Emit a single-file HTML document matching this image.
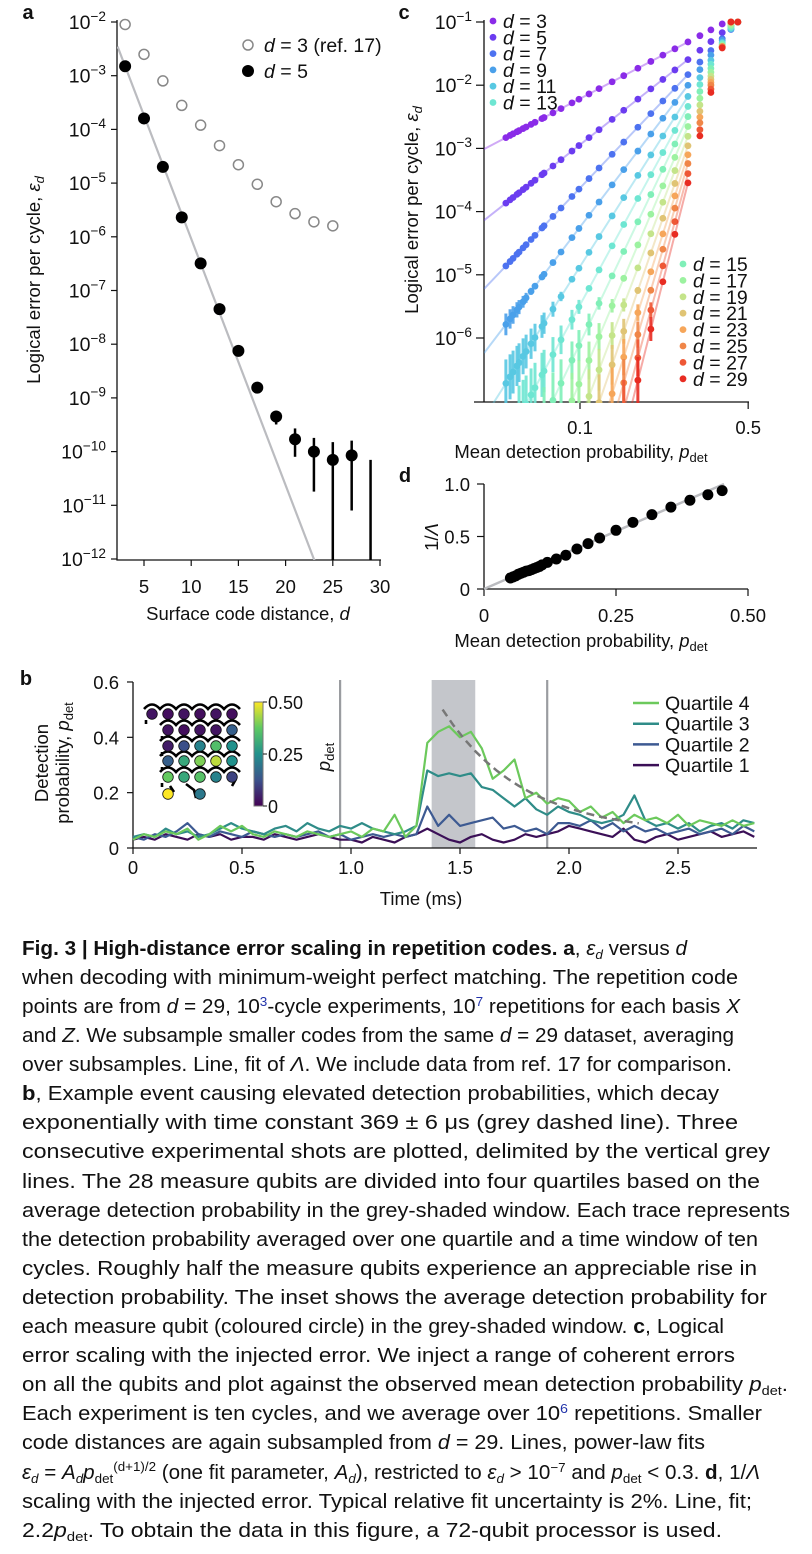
<!DOCTYPE html>
<html><head><meta charset="utf-8">
<style>
html,body{margin:0;padding:0;background:#fff;}
svg{display:block;font-family:"Liberation Sans",sans-serif;}
.cap{font-family:"Liberation Sans Narrow","Liberation Sans",sans-serif;font-size:20px;fill:#111;}
</style></head>
<body>
<svg id="fig" width="812" height="1554" viewBox="0 0 812 1554" xmlns="http://www.w3.org/2000/svg">
<defs>
<linearGradient id="viridis" x1="0" y1="1" x2="0" y2="0">
<stop offset="0" stop-color="#440154"/><stop offset="0.25" stop-color="#3b528b"/><stop offset="0.5" stop-color="#21918c"/><stop offset="0.75" stop-color="#5ec962"/><stop offset="1" stop-color="#fde725"/>
</linearGradient>
<clipPath id="clipC"><rect x="484" y="14" width="280" height="389"/></clipPath>
<clipPath id="clipA"><rect x="117" y="10" width="270" height="550"/></clipPath>
</defs>
<g id="pa"></g>
<g id="pc"></g>
<g id="pd"></g>
<g id="pb"></g>
<g id="caption">
<text class="cap" x="22" y="955" textLength="665" lengthAdjust="spacingAndGlyphs"><tspan font-weight="bold">Fig. 3 | High-distance error scaling in repetition codes. a</tspan>, <tspan font-style="italic">ε</tspan><tspan font-style="italic" font-size="13" dy="4">d</tspan><tspan dy="-4"> versus </tspan><tspan font-style="italic">d</tspan></text>
<text class="cap" x="22" y="984" textLength="716" lengthAdjust="spacingAndGlyphs">when decoding with minimum-weight perfect matching. The repetition code</text>
<text class="cap" x="22" y="1013" textLength="718" lengthAdjust="spacingAndGlyphs">points are from <tspan font-style="italic">d</tspan> = 29, 10<tspan font-size="13" dy="-7" fill="#2233aa">3</tspan><tspan dy="7">-cycle experiments, 10</tspan><tspan font-size="13" dy="-7" fill="#2233aa">7</tspan><tspan dy="7"> repetitions for each basis </tspan><tspan font-style="italic">X</tspan></text>
<text class="cap" x="22" y="1042" textLength="712" lengthAdjust="spacingAndGlyphs">and <tspan font-style="italic">Z</tspan>. We subsample smaller codes from the same <tspan font-style="italic">d</tspan> = 29 dataset, averaging</text>
<text class="cap" x="22" y="1071" textLength="710" lengthAdjust="spacingAndGlyphs">over subsamples. Line, fit of <tspan font-style="italic">Λ</tspan>. We include data from ref. 17 for comparison.</text>
<text class="cap" x="22" y="1100" textLength="697" lengthAdjust="spacingAndGlyphs"><tspan font-weight="bold">b</tspan>, Example event causing elevated detection probabilities, which decay</text>
<text class="cap" x="22" y="1129" textLength="716" lengthAdjust="spacingAndGlyphs">exponentially with time constant 369 ± 6 μs (grey dashed line). Three</text>
<text class="cap" x="22" y="1158" textLength="748" lengthAdjust="spacingAndGlyphs">consecutive experimental shots are plotted, delimited by the vertical grey</text>
<text class="cap" x="22" y="1188" textLength="738" lengthAdjust="spacingAndGlyphs">lines. The 28 measure qubits are divided into four quartiles based on the</text>
<text class="cap" x="22" y="1217" textLength="768" lengthAdjust="spacingAndGlyphs">average detection probability in the grey-shaded window. Each trace represents</text>
<text class="cap" x="22" y="1246" textLength="736" lengthAdjust="spacingAndGlyphs">the detection probability averaged over one quartile and a time window of ten</text>
<text class="cap" x="22" y="1275" textLength="735" lengthAdjust="spacingAndGlyphs">cycles. Roughly half the measure qubits experience an appreciable rise in</text>
<text class="cap" x="22" y="1304" textLength="745" lengthAdjust="spacingAndGlyphs">detection probability. The inset shows the average detection probability for</text>
<text class="cap" x="22" y="1333" textLength="702" lengthAdjust="spacingAndGlyphs">each measure qubit (coloured circle) in the grey-shaded window. <tspan font-weight="bold">c</tspan>, Logical</text>
<text class="cap" x="22" y="1362" textLength="713" lengthAdjust="spacingAndGlyphs">error scaling with the injected error. We inject a range of coherent errors</text>
<text class="cap" x="22" y="1391" textLength="766" lengthAdjust="spacingAndGlyphs">on all the qubits and plot against the observed mean detection probability <tspan font-style="italic">p</tspan><tspan font-size="13" dy="4">det</tspan><tspan dy="-4">.</tspan></text>
<text class="cap" x="22" y="1420" textLength="740" lengthAdjust="spacingAndGlyphs">Each experiment is ten cycles, and we average over 10<tspan font-size="13" dy="-7" fill="#2233aa">6</tspan><tspan dy="7"> repetitions. Smaller</tspan></text>
<text class="cap" x="22" y="1449" textLength="683" lengthAdjust="spacingAndGlyphs">code distances are again subsampled from <tspan font-style="italic">d</tspan> = 29. Lines, power-law fits</text>
<text class="cap" x="22" y="1479" textLength="738" lengthAdjust="spacingAndGlyphs"><tspan font-style="italic">ε</tspan><tspan font-style="italic" font-size="13" dy="4">d</tspan><tspan dy="-4"> = </tspan><tspan font-style="italic">A</tspan><tspan font-style="italic" font-size="13" dy="4">d</tspan><tspan font-style="italic" dy="-4">p</tspan><tspan font-size="13" dy="4">det</tspan><tspan font-size="13" dy="-12">(d+1)/2</tspan><tspan dy="8"> (one fit parameter, </tspan><tspan font-style="italic">A</tspan><tspan font-style="italic" font-size="13" dy="4">d</tspan><tspan dy="-4">), restricted to </tspan><tspan font-style="italic">ε</tspan><tspan font-style="italic" font-size="13" dy="4">d</tspan><tspan dy="-4"> &gt; 10</tspan><tspan font-size="13" dy="-7">−7</tspan><tspan dy="7"> and </tspan><tspan font-style="italic">p</tspan><tspan font-size="13" dy="4">det</tspan><tspan dy="-4"> &lt; 0.3. </tspan><tspan font-weight="bold">d</tspan>, 1/<tspan font-style="italic">Λ</tspan></text>
<text class="cap" x="22" y="1508" textLength="730" lengthAdjust="spacingAndGlyphs">scaling with the injected error. Typical relative fit uncertainty is 2%. Line, fit;</text>
<text class="cap" x="22" y="1537" textLength="700" lengthAdjust="spacingAndGlyphs">2.2<tspan font-style="italic">p</tspan><tspan font-size="13" dy="4">det</tspan><tspan dy="-4">. To obtain the data in this figure, a 72-qubit processor is used.</tspan></text>
</g>
</svg>
<script>
// ---------- DATA ----------
// Panel a
const aDist = [3,5,7,9,11,13,15,17,19,21,23,25,27];
const aEps = [1.5e-3,1.6e-4,2.0e-5,2.3e-6,3.2e-7,4.5e-8,7.5e-9,1.55e-9,4.5e-10,1.7e-10,1.0e-10,7.0e-11,8.5e-11];
const aLo = [null,null,null,null,null,null,null,null,3.2e-10,8e-11,1.8e-11,1e-13,8e-12];
const aHi = [null,null,null,null,null,null,null,null,5.5e-10,2.7e-10,1.8e-10,1.5e-10,1.6e-10];
const refDist = [3,5,7,9,11,13,15,17,19,21,23,25];
const refEps = [9e-3,2.5e-3,8e-4,2.8e-4,1.2e-4,5e-5,2.2e-5,9.5e-6,4.5e-6,2.7e-6,1.9e-6,1.6e-6];
const aFitLambda = 0.459; // log10 decrease per unit d
const aFitStart = [2.2, 3.5e-3];
const d29Bar = [7e-11, 1e-13];
const aXTicks = [5,10,15,20,25,30];
const aYTicks = [-2,-3,-4,-5,-6,-7,-8,-9,-10,-11,-12];
// Panel c
const cDist = [3,5,7,9,11,13,15,17,19,21,23,25,27,29];
const cEpsAt028 = [0.048,0.0251,0.0145,0.0098,0.0065,0.0045,0.0031,0.00215,0.0015,0.00106,0.00076,0.00055,0.00038,0.00027];
const cP = [0.0492,0.0512,0.0527,0.0547,0.0558,0.058,0.0597,0.0626,0.065,0.0695,0.0709,0.0772,0.0834,0.0926,0.099,0.109,0.12,0.136,0.152,0.174,0.197,0.221,0.248,0.281];
const cPSat = [0.315,0.35,0.39,0.424,0.453];
const cColors = ["#8a2be8","#6b3cf0","#4d72f0","#4aa0ea","#58c8e2","#6ee6d2","#80efb8","#9cf2a0","#c4e48a","#e0c474","#f6a65a","#f08648","#ee5836","#e82c22"];
// Panel d
const dP = [0.05,0.055,0.06,0.065,0.07,0.075,0.08,0.085,0.09,0.095,0.1,0.105,0.11,0.12,0.137,0.155,0.176,0.197,0.219,0.25,0.282,0.318,0.354,0.39,0.424,0.451];
const dInvLam = [0.105,0.115,0.125,0.14,0.15,0.16,0.17,0.175,0.185,0.195,0.205,0.215,0.23,0.254,0.286,0.321,0.381,0.432,0.486,0.559,0.635,0.708,0.78,0.845,0.898,0.937];
const dFitSlope = 2.2;
// Panel b
const bStep = 0.05;
const bQ4 = [.03,.05,.04,.06,.05,.07,.03,.05,.08,.06,.08,.05,.04,.06,.05,.04,.06,.05,.04,.05,.06,.04,.07,.06,.12,.04,.08,.38,.42,.44,.40,.42,.36,.25,.28,.32,.18,.20,.16,.18,.17,.13,.15,.11,.13,.09,.12,.10,.11,.09,.12,.08,.10,.09,.08,.10,.08,.09];
const bQ3 = [.04,.05,.04,.07,.05,.06,.04,.05,.07,.09,.07,.06,.05,.07,.08,.06,.09,.07,.06,.08,.07,.09,.07,.06,.05,.06,.08,.28,.26,.27,.26,.27,.22,.21,.18,.15,.18,.14,.12,.15,.13,.12,.10,.09,.10,.12,.19,.10,.08,.09,.07,.09,.06,.08,.09,.07,.10,.09];
const bQ2 = [.04,.03,.05,.04,.06,.09,.05,.04,.06,.05,.04,.06,.05,.04,.05,.04,.05,.06,.04,.05,.03,.04,.05,.04,.05,.04,.05,.15,.08,.12,.08,.09,.10,.11,.07,.08,.06,.07,.05,.09,.09,.08,.10,.07,.09,.06,.08,.06,.07,.05,.06,.07,.05,.06,.07,.05,.08,.06];
const bQ1 = [.03,.04,.03,.05,.04,.03,.05,.04,.05,.03,.04,.04,.03,.05,.04,.03,.04,.05,.04,.03,.03,.02,.04,.03,.02,.04,.05,.07,.05,.03,.02,.04,.05,.03,.02,.03,.05,.04,.05,.06,.08,.07,.06,.05,.04,.07,.03,.02,.04,.05,.03,.04,.05,.06,.04,.05,.06,.04];
const bQuartileNames = ["Quartile 4","Quartile 3","Quartile 2","Quartile 1"];
const bColors = ["#6cc95c","#2f8c88","#3d5a92","#3b0f57"];
const bShots = [0.95,1.9];
const bWindow = [1.37,1.57];
const bDecay = [1.42, 0.45, 0.369, 0.05, 2.35]; // t0, amplitude, tau(ms), offset, t_end
const bXTicks = [0,0.5,1.0,1.5,2.0,2.5];
const bXTickLabels = ["0","0.5","1.0","1.5","2.0","2.5"];
const bYTicks = [0,0.2,0.4,0.6];
const insetRows = [[152,714,[.03,.02,.03,.02,.03,.02]],[168,730,[.03,.02,.03,.03,.15]],[168,746,[.04,.12,.22,.35,.25]],[168,761,[.15,.3,.4,.45,.25]],[168,777,[.38,.3,.36,.22,.1]]];
const insetRow6 = [[168,794,.5],[200,794,.2]];

// ---------- HELPERS ----------
const NS="http://www.w3.org/2000/svg";
const FS=18.5;
function mk(tag,parent,attrs){const e=document.createElementNS(NS,tag);for(const k in attrs)e.setAttribute(k,attrs[k]);parent.appendChild(e);return e;}
function txt(parent,x,y,s,opts){const e=mk('text',parent,Object.assign({x:x,y:y,'font-size':FS,fill:'#111'},opts||{}));e.textContent=s;return e;}
function pow10(parent,x,y,exp,size){const e=mk('text',parent,{x:x,y:y,'font-size':size,'text-anchor':'end',fill:'#111'});
 const t1=mk('tspan',e,{});t1.textContent='10';const t2=mk('tspan',e,{dy:-size*0.42,'font-size':size*0.7});t2.textContent='−'+Math.abs(exp);return e;}
function viridis(v){const s=[[68,1,84],[59,82,139],[33,145,140],[94,201,98],[253,231,37]];let t=Math.max(0,Math.min(1,v/0.5))*4;let i=Math.min(3,Math.floor(t));let f=t-i;const c=s[i].map((a,k)=>Math.round(a+(s[i+1][k]-a)*f));return `rgb(${c})`;}
const L=Math.log10;

// ---------- PANEL A ----------
const pa=document.getElementById('pa');
const xa=d=>144+(d-5)*9.44, ya=v=>22+(-2-L(v))*53.7;
let t=txt(pa,28,19,'a',{'font-weight':'bold','font-size':20,'text-anchor':'middle'});


let ax=mk('path',pa,{d:'M117 20 V560 H381',stroke:'#111','stroke-width':1.3,fill:'none'});


aYTicks.forEach(e=>{const y=ya(Math.pow(10,e));mk('line',pa,{x1:111,x2:117,y1:y,y2:y,stroke:'#111','stroke-width':1.2});
 const l=pow10(pa,106,y+7,e,19.5);
 
 });
aXTicks.forEach(d=>{const x=xa(d);mk('line',pa,{x1:x,x2:x,y1:560,y2:566,stroke:'#111','stroke-width':1.2});
 const l=txt(pa,x,593,String(d),{'text-anchor':'middle'});
 
 });
t=txt(pa,248,620,'',{'text-anchor':'middle'});t.innerHTML='Surface code distance, <tspan font-style="italic">d</tspan>';


t=txt(pa,0,0,'',{'text-anchor':'middle',transform:'translate(40,280) rotate(-90)'});t.innerHTML='Logical error per cycle, <tspan font-style="italic">ε</tspan><tspan font-style="italic" font-size="13" dy="4">d</tspan>';


const gA=mk('g',pa,{'clip-path':'url(#clipA)'});
const dEnd=aFitStart[0]+(L(aFitStart[1])+12.5)/aFitLambda;
let fl=mk('line',gA,{x1:xa(aFitStart[0]),y1:ya(aFitStart[1]),x2:xa(dEnd),y2:ya(Math.pow(10,-12.5)),stroke:'#bbbcc0','stroke-width':2.2});


refDist.forEach((d,i)=>{const c=mk('circle',pa,{cx:xa(d),cy:ya(refEps[i]),r:5,fill:'#fff',stroke:'#888','stroke-width':1.5});
 
 });
aDist.forEach((d,i)=>{if(aLo[i]!==null){const b=mk('line',gA,{x1:xa(d),x2:xa(d),y1:ya(aLo[i]),y2:ya(aHi[i]),stroke:'#000','stroke-width':2.5});
 
 }
 const c=mk('circle',pa,{cx:xa(d),cy:ya(aEps[i]),r:6,fill:'#000'});
 
 });
let b29=mk('line',gA,{x1:xa(29),x2:xa(29),y1:ya(d29Bar[0]),y2:ya(d29Bar[1]),stroke:'#000','stroke-width':2.5});


let lg=mk('g',pa,{});


mk('circle',lg,{cx:248,cy:45,r:5,fill:'#fff',stroke:'#888','stroke-width':1.5});
t=txt(lg,264,52,'',{'font-size':19.5});t.innerHTML='<tspan font-style="italic">d</tspan> = 3 (ref. 17)';
mk('circle',lg,{cx:248,cy:71,r:6,fill:'#000'});
t=txt(lg,264,78,'',{'font-size':19.5});t.innerHTML='<tspan font-style="italic">d</tspan> = 5';

// ---------- PANEL C ----------
const pc=document.getElementById('pc');
const xc=p=>580+L(p/0.1)*240.6, yc=v=>22+(-1-L(v))*63.2;
t=txt(pc,404,19,'c',{'font-weight':'bold','font-size':20,'text-anchor':'middle'});


ax=mk('path',pc,{d:'M484 20 V402 M474 402 H749',stroke:'#111','stroke-width':1.3,fill:'none'});


[-1,-2,-3,-4,-5,-6].forEach(e=>{const y=yc(Math.pow(10,e));mk('line',pc,{x1:476,x2:484,y1:y,y2:y,stroke:'#111','stroke-width':1.2});
 const l=pow10(pc,472,y+7,e,19.5);
 
 });
[[0.1,'0.1'],[0.5,'0.5']].forEach(([p,s])=>{const x=xc(p);mk('line',pc,{x1:x,x2:x,y1:402,y2:409,stroke:'#111','stroke-width':1.2});
 const l=txt(pc,x,434,s,{'text-anchor':'middle'});
 
 });
t=txt(pc,581,458,'',{'text-anchor':'middle'});t.innerHTML='Mean detection probability, <tspan font-style="italic">p</tspan><tspan font-size="13" dy="4">det</tspan>';


t=txt(pc,0,0,'',{'text-anchor':'middle',transform:'translate(418,210) rotate(-90)'});t.innerHTML='Logical error per cycle, <tspan font-style="italic">ε</tspan><tspan font-style="italic" font-size="13" dy="4">d</tspan>';


const gC=mk('g',pc,{'clip-path':'url(#clipC)'});
cDist.forEach((d,k)=>{const n=(d+1)/2,e0=cEpsAt028[k];const f=p=>e0*Math.pow(p/0.28,n);
 const pL=0.0399,pR=0.281;
 const ln=mk('line',gC,{x1:xc(pL),y1:yc(f(pL)),x2:xc(pR),y2:yc(f(pR)),stroke:cColors[k],'stroke-width':2,'stroke-opacity':0.4});
 
 
 cP.concat(cPSat).forEach(p=>{let v=Math.min(0.1,f(p));if(v<1e-7*0.5)return;
  const y=yc(v),x=xc(p);
  if(v<6e-6){const h=(L(6e-6)-L(v))*14+3;const b=mk('line',gC,{x1:x,x2:x,y1:y-h,y2:y+h,stroke:cColors[k],'stroke-width':3,'stroke-opacity':0.9});
   
   }
  const c=mk('circle',gC,{cx:x,cy:y,r:3.4,fill:cColors[k]});
  
  });
});
const lc=mk('g',pc,{});


cDist.forEach((d,k)=>{let x,y;if(k<6){x=493;y=21+k*16.3;}else{x=683;y=264+(k-6)*16.4;}
 mk('circle',lc,{cx:x,cy:y,r:3.4,fill:cColors[k]});
 const l=txt(lc,x+10,y+7,'',{'font-size':19.5});l.innerHTML='<tspan font-style="italic">d</tspan> = '+d;
 
 });

// ---------- PANEL D ----------
const pd=document.getElementById('pd');
const xd=p=>484+p*528, yd=v=>589-v*105;
t=txt(pd,405,482,'d',{'font-weight':'bold','font-size':20,'text-anchor':'middle'});


ax=mk('path',pd,{d:'M484 484 V589 H748',stroke:'#111','stroke-width':1.3,fill:'none'});


[[1,'1.0'],[0.5,'0.5'],[0,'0']].forEach(([v,s])=>{const y=yd(v);mk('line',pd,{x1:477,x2:484,y1:y,y2:y,stroke:'#111','stroke-width':1.2});
 const l=txt(pd,470,y+7,s,{'text-anchor':'end'});
 
 });
[[0,'0'],[0.25,'0.25'],[0.5,'0.50']].forEach(([p,s])=>{const x=xd(p);mk('line',pd,{x1:x,x2:x,y1:589,y2:596,stroke:'#111','stroke-width':1.2});
 const l=txt(pd,x,622,s,{'text-anchor':'middle'});
 
 });
t=txt(pd,581,647,'',{'text-anchor':'middle'});t.innerHTML='Mean detection probability, <tspan font-style="italic">p</tspan><tspan font-size="13" dy="4">det</tspan>';


t=txt(pd,0,0,'',{'text-anchor':'middle',transform:'translate(438,537) rotate(-90)'});t.innerHTML='1/<tspan font-style="italic">Λ</tspan>';


let fd=mk('line',pd,{x1:xd(0),y1:yd(0),x2:xd(1/dFitSlope),y2:yd(1),stroke:'#bbbcc0','stroke-width':2.5});


dP.forEach((p,i)=>{const c=mk('circle',pd,{cx:xd(p),cy:yd(dInvLam[i]),r:5.5,fill:'#000'});
 
 });

// ---------- PANEL B ----------
const pb=document.getElementById('pb');
const xb=tt=>133+tt*218, yb=v=>848-v*276.7;
t=txt(pb,26,685,'b',{'font-weight':'bold','font-size':20,'text-anchor':'middle'});


let sh=mk('rect',pb,{x:xb(bWindow[0]),y:680,width:xb(bWindow[1])-xb(bWindow[0]),height:168,fill:'#c4c6cb'});


bShots.forEach(s=>{const l=mk('line',pb,{x1:xb(s),x2:xb(s),y1:680,y2:848,stroke:'#9a9ca0','stroke-width':2.2});
 
 });
ax=mk('path',pb,{d:'M133 682 V848 H757',stroke:'#111','stroke-width':1.3,fill:'none'});


bYTicks.forEach(v=>{const y=yb(v);mk('line',pb,{x1:127,x2:133,y1:y,y2:y,stroke:'#111','stroke-width':1.2});
 const l=txt(pb,119,y+7,v===0?'0':v.toFixed(1),{'text-anchor':'end'});
 
 });
bXTicks.forEach((v,i)=>{const x=xb(v);mk('line',pb,{x1:x,x2:x,y1:848,y2:854,stroke:'#111','stroke-width':1.2});
 const l=txt(pb,x,874,bXTickLabels[i],{'text-anchor':'middle'});
 
 });
t=txt(pb,421,905,'Time (ms)',{'text-anchor':'middle'});


t=txt(pb,0,0,'Detection',{'text-anchor':'middle',transform:'translate(48,763) rotate(-90)'});


t=txt(pb,0,0,'',{'text-anchor':'middle',transform:'translate(69,763) rotate(-90)'});t.innerHTML='probability, <tspan font-style="italic">p</tspan><tspan font-size="13" dy="4">det</tspan>';


[bQ1,bQ2,bQ3,bQ4].forEach((arr,j)=>{const k=3-j;const pts=arr.map((v,i)=>xb(i*bStep).toFixed(1)+','+yb(v).toFixed(1)).join(' ');
 const pl=mk('polyline',pb,{points:pts,fill:'none',stroke:bColors[k],'stroke-width':2.2,'stroke-linejoin':'round'});
 
 });
let dp=[];for(let tt=bDecay[0];tt<=bDecay[4]+1e-9;tt+=0.05){dp.push(xb(tt).toFixed(1)+','+yb(bDecay[3]+bDecay[1]*Math.exp(-(tt-bDecay[0])/bDecay[2])).toFixed(1));}
let dl=mk('polyline',pb,{points:dp.join(' '),fill:'none',stroke:'#777','stroke-width':2.5,'stroke-dasharray':'8,5'});


const lb=mk('g',pb,{});


bQuartileNames.forEach((nm,k)=>{const y=703+k*20.7;mk('line',lb,{x1:633,x2:659,y1:y,y2:y,stroke:bColors[k],'stroke-width':2.5});
 const l=txt(lb,665,y+7,nm,{'font-size':19.5});
 
 });
// inset
const ins=mk('g',pb,{});


let snake='';insetRows.forEach(([x0,y,vals],r)=>{const xs=vals.map((_,i)=>x0+i*16);
 snake+=`M${xs[0]-8} ${y-5} `;xs.forEach(x=>{snake+=`Q${x} ${y-14} ${x+8} ${y-5} `;});
 snake+=`M${xs[0]-6} ${y+6} L${xs[0]-6} ${y+10} `;});
snake+='M170 786 L174 792 M186 784 L194 790 L196 798 M232 786 L236 779';
mk('path',ins,{d:snake,fill:'none',stroke:'#000','stroke-width':2.6});
insetRows.forEach(([x0,y,vals])=>{vals.forEach((v,i)=>{const c=mk('circle',ins,{cx:x0+i*16,cy:y,r:5.3,fill:viridis(v),stroke:'#111','stroke-width':0.8});
 
 });});
insetRow6.forEach(([x,y,v])=>{const c=mk('circle',ins,{cx:x,cy:y,r:5.3,fill:viridis(v),stroke:'#111','stroke-width':0.8});
 
 });
let cb=mk('rect',pb,{x:254,y:702,width:9,height:104,fill:'url(#viridis)',stroke:'#777','stroke-width':1});


[[0.5,'0.50'],[0.25,'0.25'],[0,'0']].forEach(([v,s])=>{const y=806-v*208;mk('line',pb,{x1:263,x2:267,y1:y,y2:y,stroke:'#111'});
 const l=txt(pb,268,y+7,s,{'font-size':18});
 
 });
t=txt(pb,0,0,'',{'text-anchor':'middle',transform:'translate(330,757) rotate(-90)'});t.innerHTML='<tspan font-style="italic">p</tspan><tspan font-size="13" dy="4">det</tspan>';


</script>
</body></html>
